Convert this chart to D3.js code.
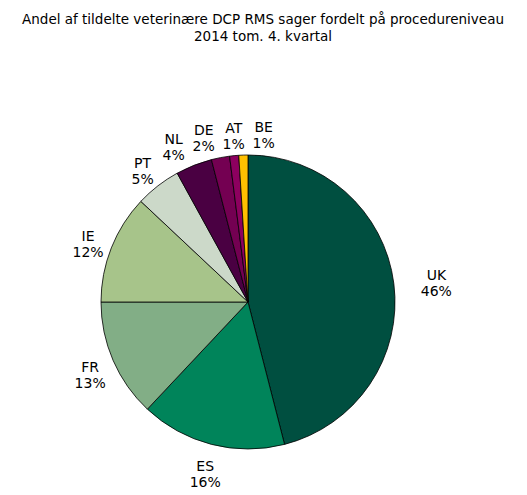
<!DOCTYPE html>
<html>
<head>
<meta charset="utf-8">
<script src="https://cdn.jsdelivr.net/npm/d3@7"></script>
<style>
  body { margin: 0; background: #fff; }
  text { font-family: "DejaVu Sans", Verdana, sans-serif; fill: #000; }
</style>
</head>
<body>
<div id="chart"></div>
<script>
// data (clockwise from 12 o'clock)
let countries = ["UK", "ES", "FR", "IE", "PT", "NL", "DE", "AT", "BE"];
let shares = [46, 16, 13, 12, 5, 4, 2, 1, 1];
let shareLabels = ["46%", "16%", "13%", "12%", "5%", "4%", "2%", "1%", "1%"];
let sliceColors = ["#004f40", "#00845a", "#82ae86", "#a7c48a", "#ccd9c9",
                   "#4a0042", "#740052", "#8d005f", "#ffc000"];
let titleLines = ["Andel af tildelte veterinære DCP RMS sager fordelt på procedureniveau",
                  "2014 tom. 4. kvartal"];

let width = 527, height = 495;
let cx = 248, cy = 302, radius = 147;

let svg = d3.select("#chart").append("svg")
    .attr("width", width)
    .attr("height", height);

// title
svg.append("g")
    .selectAll("text")
    .data(titleLines)
    .join("text")
    .attr("x", 263)
    .attr("y", (d, i) => 24 + i * 17)
    .attr("text-anchor", "middle")
    .style("font-size", "13.5px")
    .text(d => d);

let data = countries.map((c, i) => ({country: c, value: shares[i], label: shareLabels[i], color: sliceColors[i]}));

let pie = d3.pie()
    .value(d => d.value)
    .sort(null);

let arc = d3.arc()
    .innerRadius(0)
    .outerRadius(radius);

let g = svg.append("g")
    .attr("transform", "translate(" + cx + "," + cy + ")");

let arcs = pie(data);

g.selectAll("path")
    .data(arcs)
    .join("path")
    .attr("d", arc)
    .attr("fill", d => d.data.color)
    .attr("stroke", "#000")
    .attr("stroke-width", 0.8);

// label anchors at the mid angle, a bit further out on the right side
arcs.forEach(function (d) {
    let a = (d.startAngle + d.endAngle) / 2;
    let dist = 172 + 18 * Math.max(0, Math.sin(a));
    d.lx = Math.sin(a) * dist;
    d.ly = -Math.cos(a) * dist;
});

// spread labels that collide (the thin slices at the top)
let boxW = 30, boxH = 30;
for (let k = 0; k < 100; k++) {
    for (let i = 0; i < arcs.length; i++) {
        for (let j = i + 1; j < arcs.length; j++) {
            let a = arcs[i], b = arcs[j];
            let dx = b.lx - a.lx, dy = b.ly - a.ly;
            if (Math.abs(dy) < boxH && Math.abs(dx) < boxW) {
                let push = (boxW - Math.abs(dx)) / 2;
                let s = dx >= 0 ? 1 : -1;
                a.lx -= s * push;
                b.lx += s * push;
            }
        }
    }
}

let labels = g.selectAll("g.lbl")
    .data(arcs)
    .join("g")
    .attr("class", "lbl")
    .attr("transform", d => "translate(" + d.lx + "," + d.ly + ")");

labels.append("text")
    .attr("text-anchor", "middle")
    .attr("y", 2)
    .style("font-size", "14px")
    .text(d => d.data.country);

labels.append("text")
    .attr("text-anchor", "middle")
    .attr("y", 18)
    .style("font-size", "14px")
    .text(d => d.data.label);
</script>
</body>
</html>
